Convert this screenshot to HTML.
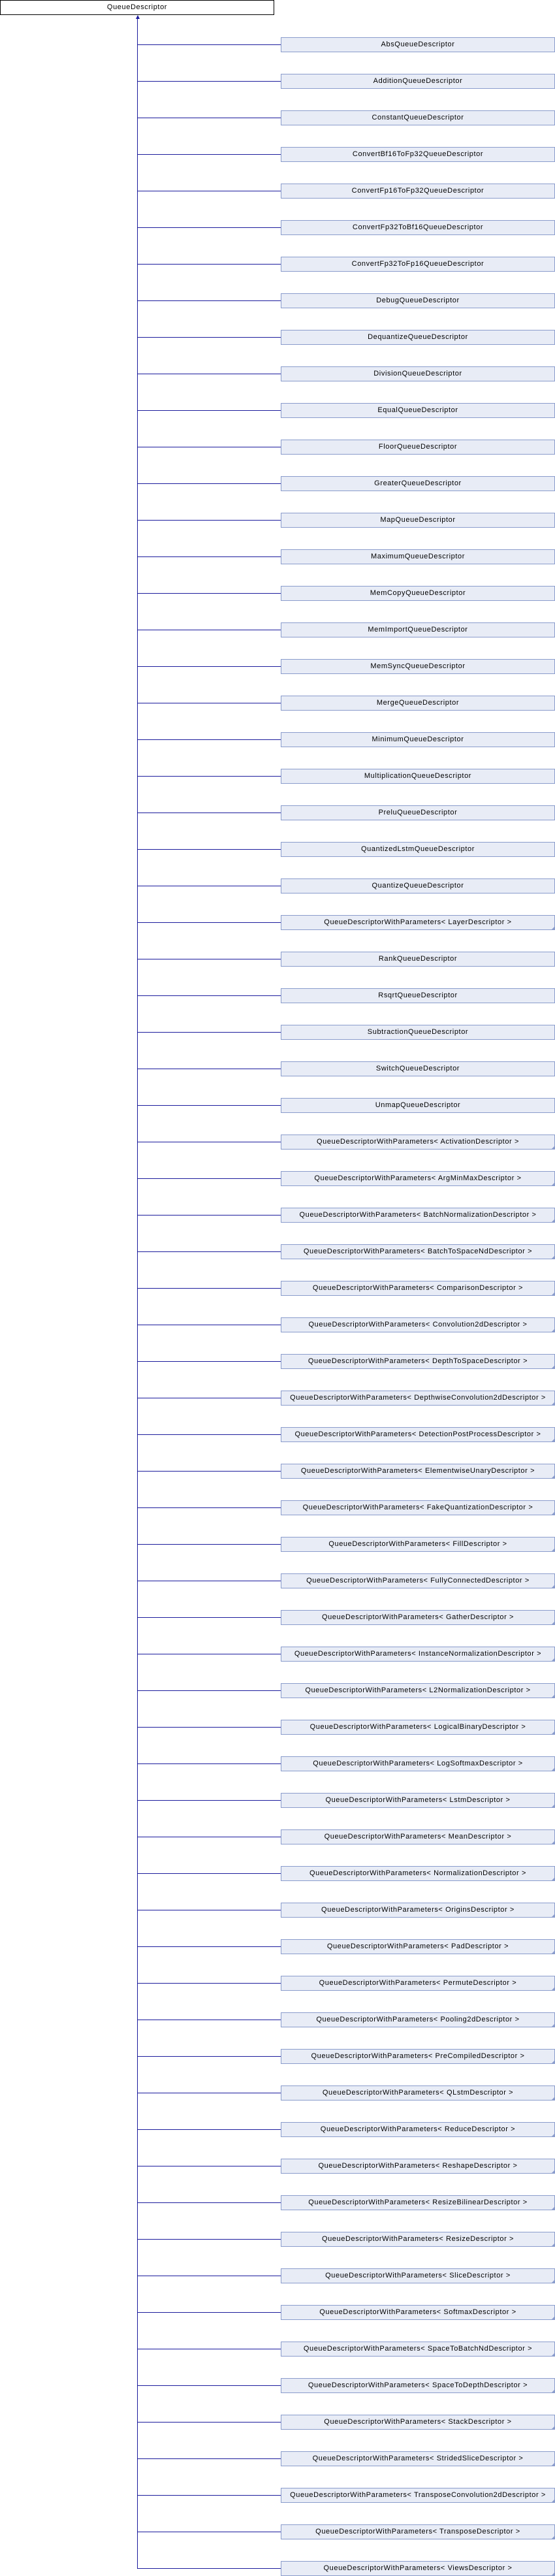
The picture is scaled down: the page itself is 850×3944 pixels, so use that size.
<!DOCTYPE html>
<html><head><meta charset="utf-8"><style>
body{margin:0;width:850px;height:3944px;background:#fff;position:relative;overflow:hidden;font-family:"Liberation Sans",sans-serif;}
.top{position:absolute;left:0;top:0;width:418px;height:21px;border:1px solid #000;background:#fff;font-size:11px;letter-spacing:0.6px;line-height:21px;text-align:center;color:#000;}
.v{position:absolute;left:210px;top:26px;width:1px;height:3907px;background:#1b1b9c;}
.arr{position:absolute;left:208px;top:23px;width:0;height:0;border-left:3px solid transparent;border-right:3px solid transparent;border-bottom:6px solid #1b1b9c;}
.b{position:absolute;left:430px;width:418px;height:21px;border:1px solid #8a9ccc;background:#e8ecf6;font-size:11px;letter-spacing:0.6px;line-height:21px;text-align:center;color:#000;white-space:nowrap;}
.b::before{content:"";position:absolute;left:-221px;top:10px;width:220px;height:1px;background:#1b1b9c;}
.t::after{content:"";position:absolute;right:0;bottom:0;width:0;height:0;border-left:4px solid transparent;border-bottom:4px solid #8a9ccc;}
</style></head><body>
<div class="top">QueueDescriptor</div>
<div class="v"></div><div class="arr"></div>
<div class="b" style="top:57px">AbsQueueDescriptor</div>
<div class="b" style="top:113px">AdditionQueueDescriptor</div>
<div class="b" style="top:169px">ConstantQueueDescriptor</div>
<div class="b" style="top:225px">ConvertBf16ToFp32QueueDescriptor</div>
<div class="b" style="top:281px">ConvertFp16ToFp32QueueDescriptor</div>
<div class="b" style="top:337px">ConvertFp32ToBf16QueueDescriptor</div>
<div class="b" style="top:393px">ConvertFp32ToFp16QueueDescriptor</div>
<div class="b" style="top:449px">DebugQueueDescriptor</div>
<div class="b" style="top:505px">DequantizeQueueDescriptor</div>
<div class="b" style="top:561px">DivisionQueueDescriptor</div>
<div class="b" style="top:617px">EqualQueueDescriptor</div>
<div class="b" style="top:673px">FloorQueueDescriptor</div>
<div class="b" style="top:729px">GreaterQueueDescriptor</div>
<div class="b" style="top:785px">MapQueueDescriptor</div>
<div class="b" style="top:841px">MaximumQueueDescriptor</div>
<div class="b" style="top:897px">MemCopyQueueDescriptor</div>
<div class="b" style="top:953px">MemImportQueueDescriptor</div>
<div class="b" style="top:1009px">MemSyncQueueDescriptor</div>
<div class="b" style="top:1065px">MergeQueueDescriptor</div>
<div class="b" style="top:1121px">MinimumQueueDescriptor</div>
<div class="b" style="top:1177px">MultiplicationQueueDescriptor</div>
<div class="b" style="top:1233px">PreluQueueDescriptor</div>
<div class="b" style="top:1289px">QuantizedLstmQueueDescriptor</div>
<div class="b" style="top:1345px">QuantizeQueueDescriptor</div>
<div class="b t" style="top:1401px">QueueDescriptorWithParameters&lt; LayerDescriptor &gt;</div>
<div class="b" style="top:1457px">RankQueueDescriptor</div>
<div class="b" style="top:1513px">RsqrtQueueDescriptor</div>
<div class="b" style="top:1569px">SubtractionQueueDescriptor</div>
<div class="b" style="top:1625px">SwitchQueueDescriptor</div>
<div class="b" style="top:1681px">UnmapQueueDescriptor</div>
<div class="b t" style="top:1737px">QueueDescriptorWithParameters&lt; ActivationDescriptor &gt;</div>
<div class="b t" style="top:1793px">QueueDescriptorWithParameters&lt; ArgMinMaxDescriptor &gt;</div>
<div class="b t" style="top:1849px">QueueDescriptorWithParameters&lt; BatchNormalizationDescriptor &gt;</div>
<div class="b t" style="top:1905px">QueueDescriptorWithParameters&lt; BatchToSpaceNdDescriptor &gt;</div>
<div class="b t" style="top:1961px">QueueDescriptorWithParameters&lt; ComparisonDescriptor &gt;</div>
<div class="b t" style="top:2017px">QueueDescriptorWithParameters&lt; Convolution2dDescriptor &gt;</div>
<div class="b t" style="top:2073px">QueueDescriptorWithParameters&lt; DepthToSpaceDescriptor &gt;</div>
<div class="b t" style="top:2129px">QueueDescriptorWithParameters&lt; DepthwiseConvolution2dDescriptor &gt;</div>
<div class="b t" style="top:2185px">QueueDescriptorWithParameters&lt; DetectionPostProcessDescriptor &gt;</div>
<div class="b t" style="top:2241px">QueueDescriptorWithParameters&lt; ElementwiseUnaryDescriptor &gt;</div>
<div class="b t" style="top:2297px">QueueDescriptorWithParameters&lt; FakeQuantizationDescriptor &gt;</div>
<div class="b t" style="top:2353px">QueueDescriptorWithParameters&lt; FillDescriptor &gt;</div>
<div class="b t" style="top:2409px">QueueDescriptorWithParameters&lt; FullyConnectedDescriptor &gt;</div>
<div class="b t" style="top:2465px">QueueDescriptorWithParameters&lt; GatherDescriptor &gt;</div>
<div class="b t" style="top:2521px">QueueDescriptorWithParameters&lt; InstanceNormalizationDescriptor &gt;</div>
<div class="b t" style="top:2577px">QueueDescriptorWithParameters&lt; L2NormalizationDescriptor &gt;</div>
<div class="b t" style="top:2633px">QueueDescriptorWithParameters&lt; LogicalBinaryDescriptor &gt;</div>
<div class="b t" style="top:2689px">QueueDescriptorWithParameters&lt; LogSoftmaxDescriptor &gt;</div>
<div class="b t" style="top:2745px">QueueDescriptorWithParameters&lt; LstmDescriptor &gt;</div>
<div class="b t" style="top:2801px">QueueDescriptorWithParameters&lt; MeanDescriptor &gt;</div>
<div class="b t" style="top:2857px">QueueDescriptorWithParameters&lt; NormalizationDescriptor &gt;</div>
<div class="b t" style="top:2913px">QueueDescriptorWithParameters&lt; OriginsDescriptor &gt;</div>
<div class="b t" style="top:2969px">QueueDescriptorWithParameters&lt; PadDescriptor &gt;</div>
<div class="b t" style="top:3025px">QueueDescriptorWithParameters&lt; PermuteDescriptor &gt;</div>
<div class="b t" style="top:3081px">QueueDescriptorWithParameters&lt; Pooling2dDescriptor &gt;</div>
<div class="b t" style="top:3137px">QueueDescriptorWithParameters&lt; PreCompiledDescriptor &gt;</div>
<div class="b t" style="top:3193px">QueueDescriptorWithParameters&lt; QLstmDescriptor &gt;</div>
<div class="b t" style="top:3249px">QueueDescriptorWithParameters&lt; ReduceDescriptor &gt;</div>
<div class="b t" style="top:3305px">QueueDescriptorWithParameters&lt; ReshapeDescriptor &gt;</div>
<div class="b t" style="top:3361px">QueueDescriptorWithParameters&lt; ResizeBilinearDescriptor &gt;</div>
<div class="b t" style="top:3417px">QueueDescriptorWithParameters&lt; ResizeDescriptor &gt;</div>
<div class="b t" style="top:3473px">QueueDescriptorWithParameters&lt; SliceDescriptor &gt;</div>
<div class="b t" style="top:3529px">QueueDescriptorWithParameters&lt; SoftmaxDescriptor &gt;</div>
<div class="b t" style="top:3585px">QueueDescriptorWithParameters&lt; SpaceToBatchNdDescriptor &gt;</div>
<div class="b t" style="top:3641px">QueueDescriptorWithParameters&lt; SpaceToDepthDescriptor &gt;</div>
<div class="b t" style="top:3697px">QueueDescriptorWithParameters&lt; StackDescriptor &gt;</div>
<div class="b t" style="top:3753px">QueueDescriptorWithParameters&lt; StridedSliceDescriptor &gt;</div>
<div class="b t" style="top:3809px">QueueDescriptorWithParameters&lt; TransposeConvolution2dDescriptor &gt;</div>
<div class="b t" style="top:3865px">QueueDescriptorWithParameters&lt; TransposeDescriptor &gt;</div>
<div class="b t" style="top:3921px">QueueDescriptorWithParameters&lt; ViewsDescriptor &gt;</div>
</body></html>
